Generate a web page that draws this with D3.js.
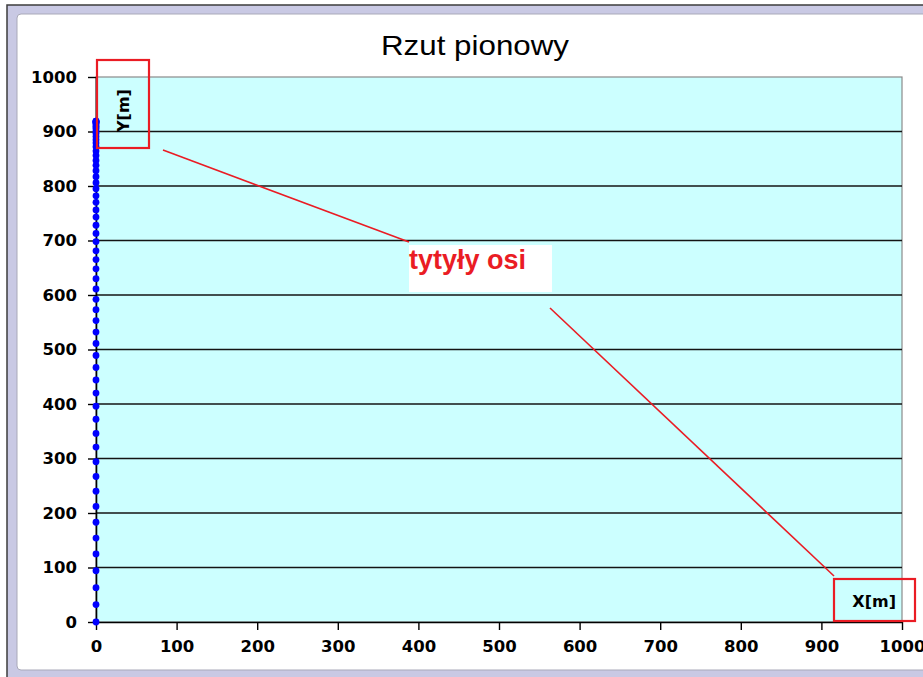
<!DOCTYPE html>
<html>
<head>
<meta charset="utf-8">
<script src="https://cdn.jsdelivr.net/npm/d3@7"></script>
<style>
  body { margin: 0; background: #ffffff; }
  svg { display: block; }
</style>
</head>
<body>
<svg id="chart" width="923" height="677"></svg>
<script>
// Chart texts
const chartTitle = "Rzut pionowy";
const xAxisTitle = "X[m]";
const yAxisTitle = "Y[m]";
const calloutText = "tytyły osi";

// Axis ticks (both axes 0..1000 step 100)
const xTickValues = [0, 100, 200, 300, 400, 500, 600, 700, 800, 900, 1000];
const yTickValues = [0, 100, 200, 300, 400, 500, 600, 700, 800, 900, 1000];

// Vertical throw: height of each sample [m]
const heightY = [
  0, 32, 63, 94, 125, 154, 183, 212, 240, 267,
  294, 321, 346, 372, 396, 420, 444, 467, 489, 511,
  532, 553, 573, 592, 611, 630, 648, 665, 681, 698,
  713, 728, 743, 756, 770, 782, 795, 806, 817, 828,
  838, 847, 856, 864, 872, 879, 885, 891, 897, 901,
  906, 909, 912, 915, 917, 918, 919, 919
];
// Horizontal position of each sample [m]
const positionX = [
  0, 0, 0, 0, 0, 0, 0, 0, 0, 0,
  0, 0, 0, 0, 0, 0, 0, 0, 0, 0,
  0, 0, 0, 0, 0, 0, 0, 0, 0, 0,
  0, 0, 0, 0, 0, 0, 0, 0, 0, 0,
  0, 0, 0, 0, 0, 0, 0, 0, 0, 0,
  0, 0, 0, 0, 0, 0, 0, 0
];

const points = heightY.map((h, i) => ({ x: positionX[i], y: h }));

const svg = d3.select("#chart");
const W = 923, H = 677;

// ---- window frame around the chart object ----
svg.append("rect").attr("x", 0).attr("y", 0).attr("width", W).attr("height", H).attr("fill", "#ffffff");
svg.append("rect")
  .attr("x", 7).attr("y", 5).attr("width", W + 20).attr("height", H + 20)
  .attr("fill", "#c9c9e4").attr("stroke", "#3c3c3c").attr("stroke-width", 1.5);
svg.append("rect")
  .attr("x", 17).attr("y", 14).attr("width", W).attr("height", 656)
  .attr("rx", 4).attr("ry", 4)
  .attr("fill", "#ffffff").attr("stroke", "#a9a9b9").attr("stroke-width", 1);

// ---- scales ----
const x = d3.scaleLinear().domain([0, 1000]).range([96, 902]);
const y = d3.scaleLinear().domain([0, 1000]).range([622, 77]);

// ---- plot area ----
svg.append("rect")
  .attr("x", x(0)).attr("y", y(1000))
  .attr("width", x(1000) - x(0)).attr("height", y(0) - y(1000))
  .attr("fill", "#ccffff").attr("stroke", "#8a8a8a").attr("stroke-width", 1.2);

// horizontal gridlines
svg.append("g")
  .selectAll("line")
  .data(yTickValues.filter(v => v > 0 && v < 1000))
  .join("line")
  .attr("x1", x(0)).attr("x2", x(1000))
  .attr("y1", d => y(d)).attr("y2", d => y(d))
  .attr("stroke", "#141414").attr("stroke-width", 1.4);

// ---- title ----
svg.append("text")
  .attr("x", 475).attr("y", 55)
  .attr("text-anchor", "middle")
  .attr("font-family", "'Liberation Sans', Arial, sans-serif")
  .attr("font-size", 28)
  .attr("textLength", 188)
  .attr("lengthAdjust", "spacingAndGlyphs")
  .attr("fill", "#000")
  .text(chartTitle);

// ---- axes ----
const tickFont = "'DejaVu Sans', Verdana, sans-serif";

const yAxis = svg.append("g")
  .attr("transform", `translate(${x(0)},0)`)
  .call(d3.axisLeft(y).tickValues(yTickValues).tickSize(8).tickSizeOuter(0).tickPadding(11).tickFormat(d3.format("d")));

const xAxis = svg.append("g")
  .attr("transform", `translate(0,${y(0)})`)
  .call(d3.axisBottom(x).tickValues(xTickValues).tickSize(8).tickSizeOuter(0).tickPadding(10).tickFormat(d3.format("d")));

[yAxis, xAxis].forEach(g => {
  g.select(".domain").attr("stroke", "#000").attr("stroke-width", 1.6);
  g.selectAll(".tick line").attr("stroke", "#000").attr("stroke-width", 1.4);
  g.selectAll(".tick text")
    .attr("font-family", tickFont)
    .attr("font-weight", "bold")
    .attr("font-size", 16.5)
    .attr("fill", "#000");
});

// ---- axis titles ----
svg.append("text")
  .attr("transform", "translate(129,132) rotate(-90)")
  .attr("font-family", tickFont)
  .attr("font-weight", "bold")
  .attr("font-size", 16)
  .attr("fill", "#000")
  .text(yAxisTitle);

svg.append("text")
  .attr("x", 896).attr("y", 607)
  .attr("text-anchor", "end")
  .attr("font-family", tickFont)
  .attr("font-weight", "bold")
  .attr("font-size", 16)
  .attr("fill", "#000")
  .text(xAxisTitle);

// ---- data points ----
svg.append("g")
  .selectAll("circle")
  .data(points)
  .join("circle")
  .attr("cx", d => x(d.x))
  .attr("cy", d => y(d.y))
  .attr("r", 3.4)
  .attr("fill", "#0000ff");

// ---- callout marking the axis titles ----
const calloutRed = "#ea1c24";
const callout = svg.append("g");

callout.append("line")
  .attr("x1", 163).attr("y1", 150).attr("x2", 409).attr("y2", 242)
  .attr("stroke", calloutRed).attr("stroke-width", 1.6);
callout.append("line")
  .attr("x1", 550).attr("y1", 308).attr("x2", 834).attr("y2", 576)
  .attr("stroke", calloutRed).attr("stroke-width", 1.6);

callout.append("rect")
  .attr("x", 97).attr("y", 60).attr("width", 52).attr("height", 88)
  .attr("fill", "none").attr("stroke", calloutRed).attr("stroke-width", 2.2);
callout.append("rect")
  .attr("x", 834).attr("y", 579).attr("width", 81).attr("height", 42)
  .attr("fill", "none").attr("stroke", calloutRed).attr("stroke-width", 2.2);

callout.append("rect")
  .attr("x", 409).attr("y", 245).attr("width", 143).attr("height", 47)
  .attr("fill", "#ffffff");
callout.append("text")
  .attr("x", 409).attr("y", 269)
  .attr("font-family", "'Liberation Sans', Arial, sans-serif")
  .attr("font-weight", "bold")
  .attr("font-size", 27)
  .attr("fill", calloutRed)
  .text(calloutText);
</script>
</body>
</html>
